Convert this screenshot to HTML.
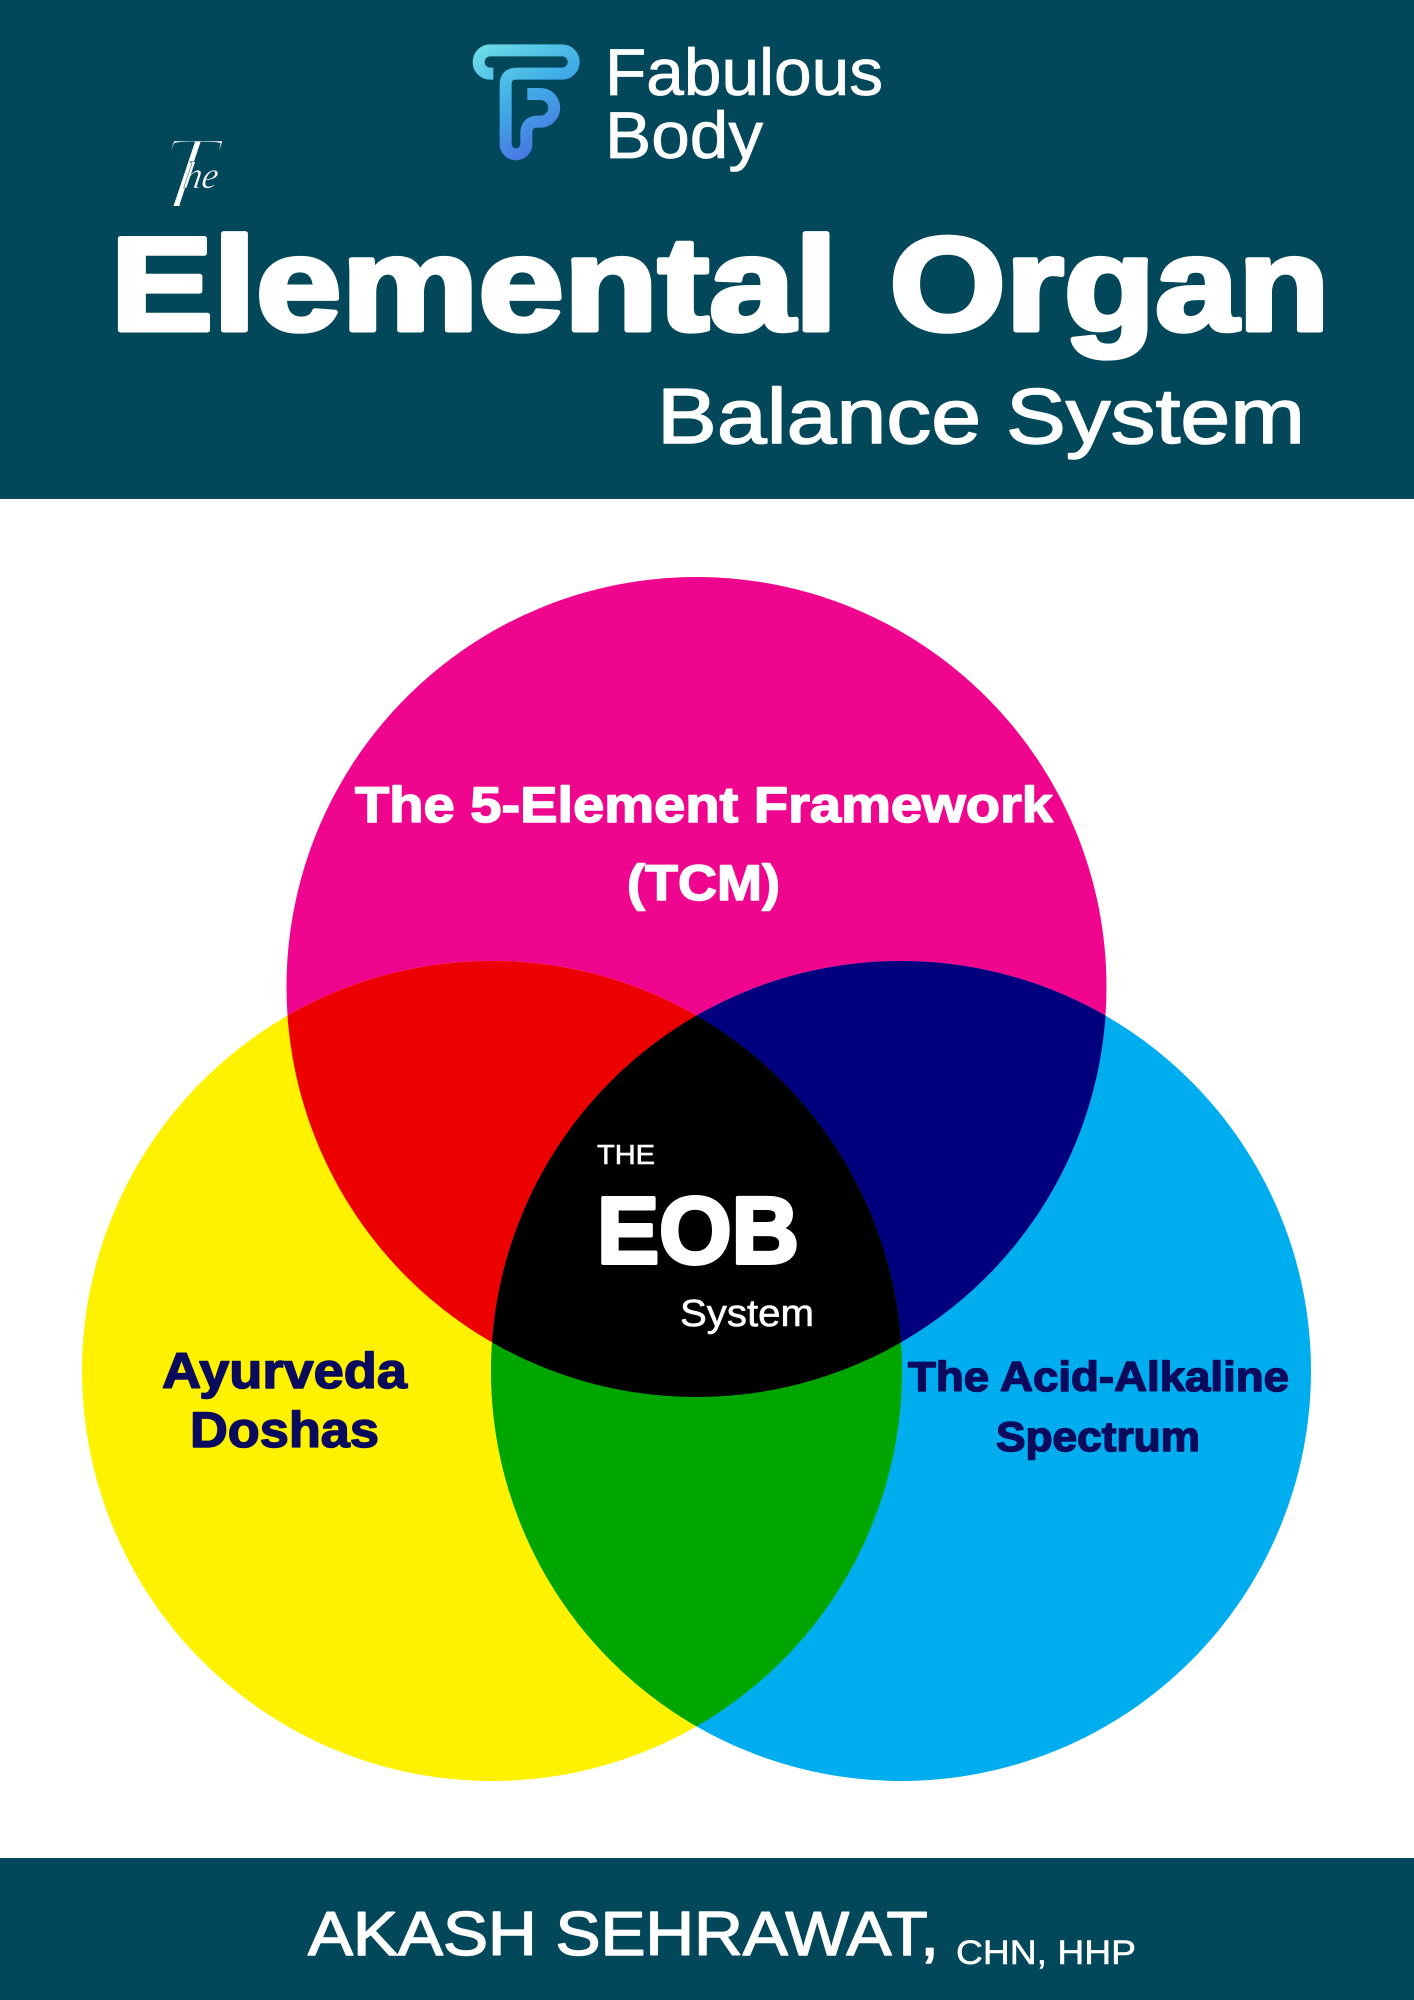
<!DOCTYPE html>
<html lang="en">
<head>
<meta charset="utf-8">
<title>The Elemental Organ Balance System</title>
<style>
html,body{margin:0;padding:0;background:#fff}
svg{display:block}
text{font-family:"Liberation Sans",sans-serif}
</style>
</head>
<body>
<svg xmlns="http://www.w3.org/2000/svg" width="1414" height="2000" viewBox="0 0 1414 2000">
<defs>
<linearGradient id="lg" gradientUnits="userSpaceOnUse" x1="100" y1="80" x2="300" y2="420">
<stop offset="0" stop-color="#6fdfe6"/>
<stop offset=".5" stop-color="#40aee6"/>
<stop offset="1" stop-color="#4a6ee2"/>
</linearGradient>
<clipPath id="cT"><circle cx="696.5" cy="987" r="410"/></clipPath>
<clipPath id="cL"><circle cx="492" cy="1371" r="410"/></clipPath>
<clipPath id="cR"><circle cx="901" cy="1371" r="410"/></clipPath>
</defs>
<rect width="1414" height="2000" fill="#fff"/>
<rect width="1414" height="499" fill="#03485a"/>
<rect y="1858" width="1414" height="142" fill="#03485a"/>

<!-- logo -->
<g transform="translate(440 20) scale(.33333)">
<path d="M160 161H151A35 35 0 0 1 151 91H366A35 35 0 0 1 366 161H230Q197 161 197 194V372A31 31 0 0 0 259 372V340Q259 305 294 305H301A41.500 41.500 0 0 0 301 222H262" fill="none" stroke="url(#lg)" stroke-width="36"/>
</g>
<g fill="#fff" stroke="#fff" stroke-width=".8" font-size="66">
<text x="605" y="95" textLength="278" lengthAdjust="spacingAndGlyphs">Fabulous</text>
<text x="605" y="158" textLength="158" lengthAdjust="spacingAndGlyphs">Body</text>
</g>

<!-- script The -->
<text transform="translate(152 208) scale(.95 1) skewX(-10)" fill="#fff" style='font-family:"Liberation Serif",serif;font-style:italic'><tspan font-size="105" stroke="#03485a" stroke-width="4">T</tspan><tspan font-size="38" dx="-30" dy="-20" stroke="#03485a" stroke-width=".5">he</tspan></text>

<!-- title -->
<g font-size="133" font-weight="700" fill="#fff" stroke="#fff" stroke-width="5" stroke-linejoin="round">
<text x="110.500" y="330" textLength="727" lengthAdjust="spacingAndGlyphs">Elemental</text>
<text x="889.500" y="330" textLength="440" lengthAdjust="spacingAndGlyphs">Organ</text>
</g>
<text x="657" y="443" font-size="78" fill="#fff" stroke="#fff" stroke-width="1.500" stroke-linejoin="round" textLength="648" lengthAdjust="spacingAndGlyphs">Balance System</text>

<!-- venn -->
<circle cx="696.500" cy="987" r="410" fill="#ef058e"/>
<circle cx="492" cy="1371" r="410" fill="#fff200"/>
<circle cx="901" cy="1371" r="410" fill="#00adef"/>
<g clip-path="url(#cT)">
<circle cx="492" cy="1371" r="410" fill="#ed0000"/>
<circle cx="901" cy="1371" r="410" fill="#00007f"/>
</g>
<g clip-path="url(#cL)">
<circle cx="901" cy="1371" r="410" fill="#00a600"/>
</g>
<g clip-path="url(#cT)"><g clip-path="url(#cL)">
<circle cx="901" cy="1371" r="410" fill="#000"/>
</g></g>

<!-- labels -->
<g font-weight="700" fill="#fff" stroke="#fff" stroke-width="1.500" stroke-linejoin="round">
<text x="355" y="822" font-size="50" textLength="698" lengthAdjust="spacingAndGlyphs">The 5-Element Framework</text>
<text x="627" y="900" font-size="50" textLength="153" lengthAdjust="spacingAndGlyphs">(TCM)</text>
</g>
<g font-weight="700" fill="#0b0b5e" stroke="#0b0b5e" stroke-width="1.500" stroke-linejoin="round">
<text x="162" y="1388" font-size="50" textLength="245" lengthAdjust="spacingAndGlyphs">Ayurveda</text>
<text x="190" y="1447" font-size="50" textLength="189" lengthAdjust="spacingAndGlyphs">Doshas</text>
<text x="908" y="1391" font-size="42" textLength="381" lengthAdjust="spacingAndGlyphs">The Acid-Alkaline</text>
<text x="996" y="1451" font-size="42" textLength="204" lengthAdjust="spacingAndGlyphs">Spectrum</text>
</g>
<g fill="#fff">
<text x="597" y="1164" font-size="28" stroke="#fff" stroke-width=".6" textLength="58" lengthAdjust="spacingAndGlyphs">THE</text>
<text x="597" y="1263" font-size="95" font-weight="700" stroke="#fff" stroke-width="4" stroke-linejoin="round" textLength="202" lengthAdjust="spacingAndGlyphs">EOB</text>
<text x="680" y="1326" font-size="38" stroke="#fff" stroke-width=".6" textLength="134" lengthAdjust="spacingAndGlyphs">System</text>
</g>

<!-- footer -->
<g fill="#fff">
<text x="308" y="1955" font-size="62" stroke="#fff" stroke-width="1.500" stroke-linejoin="round" textLength="631" lengthAdjust="spacingAndGlyphs">AKASH SEHRAWAT,</text>
<text x="956" y="1964" font-size="34" stroke="#fff" stroke-width=".5" textLength="180" lengthAdjust="spacingAndGlyphs">CHN, HHP</text>
</g>
</svg>
</body>
</html>
